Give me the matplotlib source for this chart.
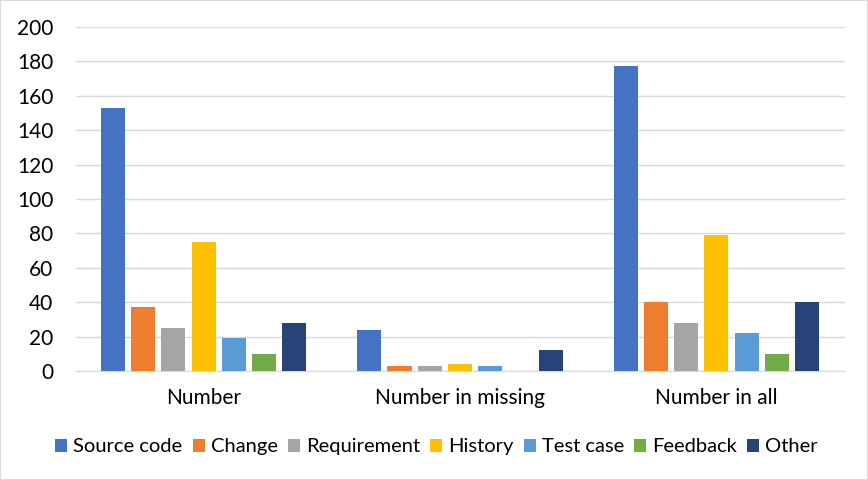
import matplotlib.pyplot as plt
import numpy as np

plt.rcParams['font.family'] = ['Lato', 'DejaVu Sans']

categories = ["Number", "Number in missing", "Number in all"]
series = ["Source code", "Change", "Requirement", "History", "Test case", "Feedback", "Other"]
source_code = [153, 24, 177]
change = [37, 3, 40]
requirement = [25, 3, 28]
history = [75, 4, 79]
test_case = [19, 3, 22]
feedback = [10, 0, 10]
other = [28, 12, 40]

values = [source_code, change, requirement, history, test_case, feedback, other]
colors = ["#4472C4", "#ED7D31", "#A5A5A5", "#FFC000", "#5B9BD5", "#70AD47", "#264478"]

fig = plt.figure(figsize=(8.68, 4.80), dpi=100)
ax = fig.add_axes([0.087, 0.227, 0.886, 0.717])

x = np.arange(len(categories))
pitch = 0.118
width = 0.094
for i, (name, vals, col) in enumerate(zip(series, values, colors)):
    ax.bar(x + (i - 3) * pitch, vals, width, color=col, label=name, zorder=3)

ax.set_xlim(-0.5, 2.5)
ax.set_ylim(0, 200)
ax.set_yticks(range(0, 201, 20))
ax.set_xticks(x)
ax.set_xticklabels(categories)
ax.grid(axis="y", color="#D9D9D9", linewidth=1, zorder=0)
ax.tick_params(axis="both", length=0, labelsize=15, colors="black")
ax.tick_params(axis="y", pad=16)
ax.tick_params(axis="x", pad=12)
for s in ["top", "right", "left"]:
    ax.spines[s].set_visible(False)
ax.spines["bottom"].set_color("#D9D9D9")

fig.legend(loc="center", bbox_to_anchor=(0.503, 0.069), ncol=7, frameon=False,
           fontsize=14.5, handlelength=0.6, handleheight=0.6, handletextpad=0.3,
           columnspacing=0.5)

fig.patches.append(plt.Rectangle((0, 0), 1, 1, transform=fig.transFigure,
                                 fill=False, edgecolor="#D9D9D9", linewidth=1.5))

plt.savefig("out.png", dpi=100)
